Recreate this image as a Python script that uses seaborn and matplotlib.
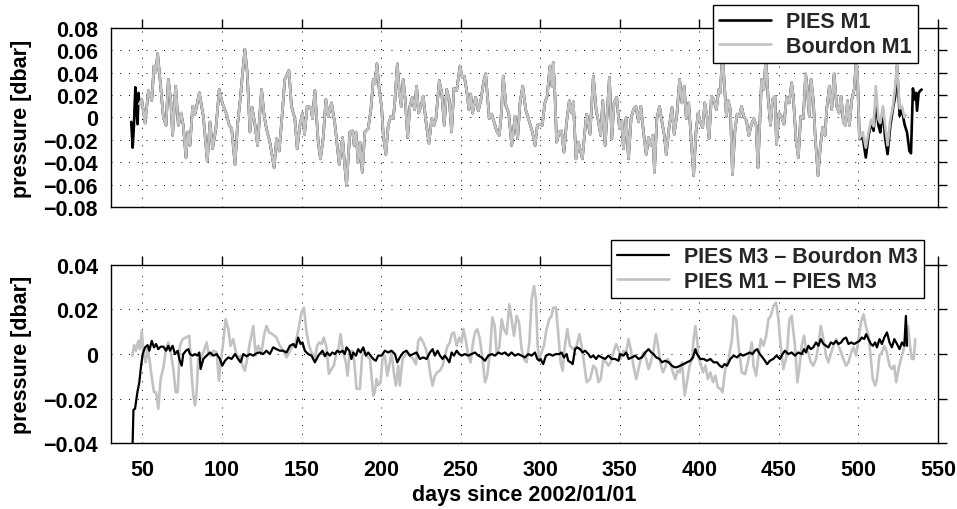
import matplotlib
matplotlib.use("Agg")
import matplotlib.pyplot as plt
import seaborn as sns
import numpy as np

# ---------------- data ----------------
# Top panel: Bourdon M1 bottom pressure (dbar), days since 2002/01/01
bourdon_m1_days = [
    48.0, 49.6, 51.7, 53.8, 55.9, 57.3, 58.4, 59.6, 61.1, 63.2,
    64.9, 66.3, 67.8, 69.0, 70.9, 72.6, 74.3, 75.7, 77.4, 78.5,
    79.9, 81.6, 83.1, 85.8, 88.3, 90.8, 92.5, 94.1, 96.2, 98.3,
    100.4, 102.9, 104.6, 106.1, 108.2, 109.8, 111.7, 112.8, 114.4, 115.9,
    117.6, 119.0, 120.7, 122.4, 124.9, 126.6, 128.0, 130.1, 132.8, 134.3,
    136.0, 138.1, 139.5, 142.1, 143.7, 145.8, 147.3, 149.0, 150.6, 151.9,
    153.6, 155.9, 156.9, 158.4, 160.5, 161.9, 163.6, 165.3, 166.8, 168.9,
    171.0, 172.4, 173.7, 175.8, 176.8, 178.3, 180.4, 182.1, 183.1, 184.2,
    185.6, 186.7, 188.2, 189.8, 191.9, 193.6, 195.1, 196.1, 197.4, 198.8,
    200.3, 201.4, 203.0, 204.5, 206.2, 207.7, 208.7, 210.2, 211.4, 212.7,
    213.9, 215.2, 216.7, 218.1, 219.6, 221.1, 222.3, 223.6, 225.1, 226.5,
    228.2, 230.1, 231.8, 233.2, 234.5, 236.6, 238.1, 239.7, 241.2, 242.9,
    244.3, 245.8, 247.5, 249.6, 251.0, 252.3, 253.8, 255.2, 256.3, 257.5,
    259.4, 261.1, 262.8, 264.3, 265.7, 267.0, 268.0, 269.5, 271.0, 272.6,
    274.3, 275.6, 276.8, 278.5, 280.2, 282.1, 284.2, 285.8, 287.3, 289.0,
    290.9, 293.2, 295.1, 296.8, 298.2, 299.5, 301.3, 302.9, 304.4, 306.1,
    307.4, 308.2, 309.2, 310.3, 312.0, 313.4, 314.9, 316.6, 318.3, 319.7,
    320.8, 322.5, 324.0, 325.0, 326.5, 328.2, 329.2, 331.3, 333.4, 335.1,
    336.6, 338.0, 339.3, 340.8, 342.2, 343.5, 345.0, 346.4, 348.1, 349.8,
    351.3, 352.3, 354.0, 355.5, 357.1, 358.6, 360.1, 361.8, 363.2, 364.9,
    366.6, 368.1, 369.7, 370.8, 371.8, 373.3, 375.0, 376.5, 377.9, 379.2,
    380.9, 382.8, 384.2, 385.9, 387.6, 389.1, 390.5, 391.8, 393.3, 394.7,
    396.4, 397.9, 399.2, 400.6, 402.1, 403.4, 404.8, 406.1, 407.6, 409.0,
    410.7, 412.2, 413.2, 414.5, 415.8, 417.0, 418.1, 419.5, 420.8, 422.3,
    423.7, 425.2, 426.5, 427.9, 429.6, 431.1, 432.6, 434.2, 435.7, 436.8,
    437.6, 439.1, 440.5, 441.8, 443.3, 444.7, 446.0, 447.5, 448.5, 450.0,
    451.5, 453.2, 454.8, 456.5, 458.0, 459.0, 460.7, 462.2, 463.7, 465.3,
    466.8, 467.9, 469.1, 470.2, 471.6, 472.9, 474.6, 476.1, 477.5, 479.0,
    480.0, 481.7, 483.2, 484.7, 486.3, 487.8, 489.1, 490.5, 491.8, 493.1,
    494.3, 495.8, 497.3, 498.5, 499.4, 500.6, 502.7, 504.6, 506.3, 508.0,
    509.5, 510.9, 512.6, 513.7, 515.3, 516.8, 518.3, 520.0, 521.6, 523.1,
    524.2, 525.9, 527.3, 528.9, 529.8,
]
bourdon_m1 = [
    0.012, 0.016, -0.005, 0.024, 0.015, 0.046, 0.040, 0.057, 0.034, 0.000,
    -0.007, 0.034, 0.016, -0.016, 0.028, -0.007, 0.004, -0.007, -0.036, -0.013,
    -0.025, 0.010, 0.003, 0.022, 0.001, -0.039, -0.004, -0.028, -0.010, 0.025,
    0.012, 0.003, -0.007, -0.010, -0.042, -0.007, 0.019, 0.037, 0.061, 0.040,
    -0.013, 0.009, -0.006, -0.025, 0.025, 0.001, -0.010, -0.022, -0.045, -0.019,
    -0.030, 0.007, 0.034, 0.042, 0.010, -0.001, -0.028, -0.007, 0.004, -0.015,
    0.010, 0.009, -0.001, 0.024, -0.022, -0.037, -0.019, 0.016, 0.001, 0.013,
    -0.006, -0.025, -0.042, -0.018, -0.037, -0.061, -0.013, -0.012, -0.025, -0.013,
    -0.040, -0.022, -0.049, -0.013, -0.010, 0.007, 0.034, 0.030, 0.048, 0.025,
    0.010, -0.016, -0.033, -0.007, 0.001, -0.001, 0.015, 0.048, 0.024, 0.010,
    0.034, 0.016, -0.018, 0.010, 0.018, 0.007, 0.028, 0.004, 0.010, 0.019,
    -0.004, -0.023, -0.001, -0.007, -0.001, 0.033, 0.022, -0.007, 0.025, 0.016,
    -0.013, 0.026, 0.024, 0.046, 0.036, 0.037, 0.024, 0.007, 0.021, 0.004,
    0.018, 0.006, 0.016, 0.031, 0.039, 0.016, -0.001, 0.003, -0.004, -0.012,
    -0.016, 0.004, 0.037, 0.010, 0.004, -0.025, 0.001, -0.019, 0.013, 0.028,
    0.007, -0.004, -0.013, -0.025, -0.007, -0.006, -0.007, 0.013, 0.019, 0.046,
    0.028, 0.049, 0.022, -0.022, -0.013, -0.012, -0.031, -0.004, 0.015, 0.004,
    0.014, -0.037, -0.022, -0.028, -0.037, -0.010, 0.003, -0.015, 0.037, 0.007,
    -0.004, -0.016, 0.015, -0.025, 0.007, 0.036, -0.019, 0.013, 0.018, -0.010,
    -0.003, -0.028, 0.000, -0.037, -0.001, 0.007, 0.010, -0.004, 0.010, -0.013,
    -0.033, -0.018, -0.025, -0.016, -0.049, -0.001, 0.010, -0.004, -0.015, -0.033,
    -0.010, 0.009, -0.015, 0.003, 0.034, 0.013, 0.028, -0.001, 0.013, -0.016,
    -0.052, -0.013, 0.004, -0.004, -0.009, 0.013, 0.001, -0.019, 0.019, 0.016,
    0.007, 0.025, 0.022, 0.058, 0.028, 0.001, 0.015, 0.007, -0.051, -0.013,
    0.003, 0.001, 0.010, 0.001, -0.003, -0.016, -0.007, -0.001, -0.007, -0.045,
    -0.019, 0.034, 0.025, 0.052, 0.016, -0.007, 0.016, 0.019, -0.024, 0.004,
    0.001, -0.006, 0.018, 0.013, 0.031, 0.019, -0.019, -0.036, 0.001, -0.001,
    0.039, 0.025, 0.001, 0.034, 0.016, -0.019, -0.052, -0.025, -0.009, -0.016,
    0.007, 0.028, 0.007, 0.039, 0.010, 0.004, 0.019, -0.004, -0.007, 0.015,
    -0.007, 0.016, 0.025, 0.050, 0.037, -0.019, -0.013, -0.027, -0.013, -0.002,
    -0.008, 0.028, -0.002, -0.005, 0.010, -0.008, -0.025, -0.002, 0.010, 0.028,
    0.048, 0.008, 0.010, 0.000, 0.002,
]

# PIES M1: coincides with Bourdon M1 in the middle; own values at start and end
pies_m1_start_days = [43.0, 43.9, 44.6, 45.6, 46.3, 47.0, 47.6]
pies_m1_start = [-0.004, -0.027, -0.010, 0.027, 0.005, -0.006, 0.022]
pies_m1_end_days = [500.6, 502.7, 504.6, 506.3, 508.0, 509.5, 510.9, 512.6, 513.7,
                    515.3, 516.8, 518.3, 520.0, 521.6, 523.1, 524.2, 525.9, 527.3,
                    528.9, 530.5, 532.0, 533.0, 534.2, 535.3, 536.1, 536.8, 537.8,
                    538.9, 539.7]
pies_m1_end = [-0.0194, -0.0179, -0.0358, -0.0164, -0.0045, -0.0119, 0.0134, -0.0075,
               -0.0134, 0.0075, -0.0194, -0.0328, -0.0075, 0.0075, 0.0194, 0.0463,
               0.0015, 0.0075, -0.0060, -0.0134, -0.0299, -0.0320, 0.0260, 0.0160,
               0.0220, 0.0060, 0.0220, 0.0240, 0.0250]
shared_until = 499.5  # PIES M1 equals Bourdon M1 up to this day

# Bottom panel: PIES M3 - Bourdon M3
diff3_days = [
    43.7, 44.4, 45.4, 46.9, 48.1, 49.2, 50.2, 51.7, 53.3, 54.4,
    55.9, 57.3, 58.6, 60.0, 61.5, 63.2, 64.9, 66.3, 67.4, 69.0,
    70.5, 72.2, 73.2, 74.7, 75.7, 77.4, 78.9, 79.9, 81.6, 83.1,
    84.5, 85.8, 86.6, 88.3, 90.4, 92.5, 94.6, 96.7, 98.7, 100.2,
    101.9, 104.0, 106.1, 108.2, 110.2, 111.7, 113.4, 115.5, 117.6, 119.7,
    121.8, 123.8, 125.9, 128.0, 130.1, 132.2, 134.3, 136.4, 138.5, 140.6,
    142.7, 144.8, 146.4, 147.9, 149.4, 150.6, 152.1, 154.2, 156.3, 158.4,
    160.6, 163.2, 164.7, 166.1, 167.8, 169.3, 171.0, 172.4, 174.1, 175.8,
    177.2, 178.3, 180.0, 181.4, 182.5, 184.2, 185.6, 187.1, 188.8, 190.5,
    191.9, 193.4, 195.1, 196.7, 198.2, 200.3, 202.4, 204.5, 206.6, 208.7,
    210.2, 211.8, 213.9, 216.0, 218.1, 220.2, 222.3, 224.4, 226.5, 228.6,
    230.7, 232.4, 233.8, 235.5, 237.0, 238.7, 240.1, 241.6, 242.9, 244.3,
    245.8, 247.5, 249.1, 250.6, 252.7, 254.8, 256.9, 259.0, 261.1, 263.2,
    265.3, 267.4, 269.5, 271.6, 273.7, 275.8, 277.9, 280.0, 282.0, 284.1,
    286.2, 288.3, 290.4, 292.5, 294.6, 296.7, 298.2, 299.4, 300.2, 301.9,
    303.6, 305.7, 307.8, 309.9, 312.0, 313.4, 314.9, 316.6, 317.6, 319.1,
    320.4, 321.9, 323.3, 325.0, 326.7, 328.2, 330.3, 331.7, 333.4, 335.1,
    336.6, 338.7, 340.8, 342.9, 345.0, 347.1, 349.2, 350.2, 352.3, 354.0,
    355.5, 357.6, 359.7, 361.8, 363.9, 366.0, 368.1, 369.8, 371.2, 372.9,
    375.0, 376.5, 378.6, 380.7, 382.8, 384.3, 385.9, 388.0, 390.1, 392.2,
    394.3, 396.0, 397.5, 398.5, 400.6, 402.7, 404.8, 406.9, 409.0, 411.1,
    412.8, 414.3, 415.8, 417.4, 419.5, 421.6, 423.7, 425.8, 427.5, 429.6,
    431.7, 433.4, 434.9, 436.3, 438.0, 439.7, 441.2, 442.6, 444.3, 446.4,
    448.5, 450.6, 452.3, 453.8, 455.9, 458.0, 460.1, 462.2, 464.3, 465.8,
    467.0, 468.5, 470.0, 471.6, 473.3, 474.8, 476.3, 478.0, 479.6, 481.1,
    482.6, 484.2, 486.0, 487.4, 489.1, 490.5, 492.2, 493.7, 495.4, 497.3,
    498.9, 500.6, 502.1, 503.6, 504.8, 506.3, 507.8, 509.0, 510.5, 511.6,
    513.2, 514.7, 516.2, 517.9, 519.5, 521.0, 522.5, 524.2, 525.8, 527.3,
    528.8, 529.8, 530.5,
]
diff3 = [
    -0.0450, -0.0250, -0.0245, -0.0170, -0.0126, -0.0052, 0.0000, 0.0030, 0.0040, 0.0015,
    0.0059, 0.0030, 0.0045, 0.0022, 0.0033, 0.0033, 0.0015, 0.0037, 0.0015, 0.0037,
    0.0000, 0.0015, -0.0022, -0.0052, 0.0000, 0.0015, 0.0022, 0.0000, -0.0007, 0.0000,
    -0.0007, 0.0007, -0.0067, -0.0022, -0.0007, 0.0007, -0.0007, 0.0000, -0.0022, -0.0052,
    -0.0030, -0.0015, -0.0022, 0.0000, -0.0022, -0.0037, 0.0000, -0.0010, 0.0000, -0.0007,
    0.0004, 0.0007, 0.0000, 0.0015, 0.0000, 0.0030, 0.0022, 0.0015, 0.0015, 0.0007,
    0.0037, 0.0045, 0.0030, 0.0074, 0.0045, 0.0052, 0.0015, 0.0000, -0.0007, -0.0037,
    -0.0007, 0.0015, -0.0010, 0.0007, -0.0007, 0.0007, 0.0000, 0.0015, 0.0007, 0.0015,
    0.0000, 0.0030, 0.0015, -0.0022, 0.0007, -0.0007, 0.0022, 0.0007, 0.0030, -0.0007,
    0.0007, -0.0007, -0.0022, -0.0030, -0.0007, -0.0007, 0.0015, 0.0007, 0.0015, 0.0000,
    -0.0037, -0.0015, 0.0007, 0.0015, -0.0007, 0.0000, 0.0007, -0.0022, -0.0015, -0.0022,
    0.0007, 0.0022, -0.0007, 0.0015, -0.0007, -0.0022, -0.0007, -0.0022, -0.0037, 0.0007,
    -0.0007, 0.0015, 0.0000, -0.0007, 0.0000, -0.0007, 0.0000, 0.0007, -0.0007, -0.0015,
    -0.0030, -0.0007, 0.0000, -0.0007, 0.0007, 0.0000, 0.0007, -0.0007, 0.0007, -0.0007,
    0.0000, -0.0007, -0.0015, 0.0000, -0.0007, 0.0007, -0.0022, -0.0030, -0.0022, -0.0045,
    -0.0007, 0.0000, -0.0007, 0.0000, 0.0000, 0.0007, -0.0015, 0.0000, -0.0030, -0.0037,
    -0.0045, 0.0022, 0.0030, 0.0022, 0.0007, 0.0015, 0.0000, -0.0015, -0.0007, -0.0022,
    -0.0007, -0.0015, -0.0022, -0.0007, -0.0022, -0.0022, -0.0030, 0.0000, -0.0007, 0.0007,
    -0.0022, -0.0015, -0.0007, -0.0022, -0.0015, 0.0007, 0.0022, 0.0007, 0.0000, -0.0015,
    -0.0022, -0.0037, -0.0030, -0.0037, -0.0052, -0.0059, -0.0059, -0.0052, -0.0045, -0.0037,
    -0.0030, -0.0015, 0.0022, 0.0000, -0.0022, -0.0022, -0.0030, -0.0022, -0.0037, -0.0037,
    -0.0052, -0.0059, -0.0045, -0.0052, -0.0022, -0.0007, -0.0015, 0.0000, -0.0007, 0.0000,
    0.0007, 0.0000, 0.0015, 0.0022, 0.0000, -0.0015, -0.0030, -0.0045, -0.0030, -0.0022,
    -0.0007, -0.0022, 0.0000, 0.0015, 0.0000, 0.0007, -0.0007, 0.0007, 0.0000, 0.0022,
    0.0007, 0.0037, 0.0022, 0.0030, 0.0052, 0.0037, 0.0067, 0.0045, 0.0037, 0.0030,
    0.0052, 0.0045, 0.0059, 0.0045, 0.0052, 0.0067, 0.0074, 0.0045, 0.0052, 0.0045,
    0.0052, 0.0059, 0.0074, 0.0067, 0.0089, 0.0067, 0.0045, 0.0037, 0.0052, 0.0030,
    0.0067, 0.0045, 0.0074, 0.0097, 0.0052, 0.0030, 0.0067, 0.0045, 0.0022, 0.0052,
    0.0037, 0.0171, 0.0037,
]

# Bottom panel: PIES M1 - PIES M3
diff13_days = [
    43.7, 44.8, 46.0, 47.5, 48.5, 49.6, 50.6, 52.1, 53.3, 54.4,
    55.9, 57.3, 58.6, 60.0, 61.5, 63.2, 64.9, 66.3, 67.8, 69.5,
    70.9, 72.2, 73.6, 75.3, 77.4, 79.5, 81.0, 82.0, 83.1, 84.1,
    85.1, 86.6, 88.3, 90.4, 91.4, 93.1, 94.6, 96.7, 98.1, 99.2,
    100.8, 102.3, 104.0, 105.4, 107.1, 108.8, 110.2, 111.7, 113.0, 114.4,
    115.9, 117.6, 119.7, 121.3, 122.8, 124.9, 126.4, 128.0, 129.7, 131.8,
    134.3, 136.4, 138.5, 140.6, 142.3, 143.7, 145.8, 147.9, 150.0, 151.5,
    153.2, 154.8, 156.3, 158.4, 159.8, 161.1, 162.6, 164.0, 165.7, 167.2,
    168.9, 170.3, 172.0, 173.1, 174.5, 176.2, 177.9, 178.9, 180.4, 181.9,
    183.1, 184.6, 186.7, 188.1, 189.4, 190.9, 193.0, 194.0, 195.1, 196.1,
    197.2, 198.2, 199.7, 200.9, 202.4, 203.9, 205.1, 206.6, 208.1, 209.3,
    210.8, 211.8, 213.5, 215.0, 216.4, 218.1, 220.2, 221.9, 223.4, 224.8,
    226.5, 228.2, 229.6, 231.1, 232.4, 233.8, 235.3, 237.0, 238.7, 240.1,
    241.8, 243.3, 244.3, 245.8, 247.5, 249.1, 250.6, 251.7, 253.1, 254.8,
    256.3, 257.5, 259.0, 260.5, 262.1, 263.2, 264.2, 265.3, 266.7, 268.4,
    269.9, 271.4, 272.6, 274.3, 275.8, 277.2, 278.9, 280.6, 282.0, 283.5,
    285.2, 286.7, 288.3, 289.8, 291.5, 293.2, 294.6, 296.1, 297.3, 298.4,
    299.4, 300.8, 302.3, 304.0, 305.7, 307.1, 308.2, 309.9, 311.3, 312.8,
    314.1, 315.5, 317.0, 318.7, 320.8, 322.9, 324.6, 326.0, 327.5, 329.2,
    331.3, 333.4, 335.1, 336.6, 338.0, 339.7, 341.4, 342.9, 344.3, 346.0,
    347.7, 349.2, 350.6, 352.3, 354.0, 355.5, 356.9, 358.6, 360.3, 361.8,
    363.2, 364.9, 366.6, 368.1, 369.5, 371.2, 372.7, 374.0, 375.4, 377.1,
    378.6, 380.0, 381.7, 383.4, 384.9, 386.3, 387.6, 389.1, 390.8, 392.2,
    393.9, 395.4, 396.4, 397.5, 398.5, 399.6, 400.6, 402.3, 403.8, 405.3,
    406.9, 408.6, 410.1, 411.6, 413.2, 414.5, 415.8, 416.3, 418.4, 420.5,
    421.5, 423.2, 424.6, 426.7, 428.8, 430.9, 433.0, 434.0, 435.7, 437.2,
    438.6, 440.3, 442.0, 443.4, 444.9, 446.6, 448.2, 449.7, 451.1, 452.8,
    454.9, 456.6, 458.0, 460.1, 461.6, 462.8, 464.3, 465.8, 467.0, 468.5,
    470.0, 471.6, 473.3, 474.8, 476.3, 478.0, 479.6, 481.1, 482.6, 484.2,
    486.0, 487.4, 489.1, 490.5, 492.2, 493.7, 495.4, 496.9, 498.5, 500.0,
    501.5, 503.2, 504.6, 506.3, 507.8, 509.0, 510.5, 511.6, 513.2, 514.7,
    516.2, 517.9, 519.5, 521.0, 522.5, 523.7, 525.2, 526.7, 528.4, 529.8,
    531.1, 532.6, 533.6, 534.7, 535.7,
]
diff13 = [
    -0.0007, 0.0040, 0.0015, 0.0059, 0.0022, 0.0104, 0.0007, -0.0037, 0.0033, -0.0022,
    -0.0104, -0.0171, -0.0171, -0.0245, -0.0112, -0.0059, 0.0022, 0.0052, 0.0007, -0.0067,
    -0.0171, -0.0171, 0.0037, 0.0067, 0.0074, 0.0082, -0.0097, -0.0186, -0.0230, -0.0171,
    -0.0022, -0.0022, 0.0007, 0.0052, 0.0007, -0.0007, 0.0015, 0.0007, -0.0119, -0.0037,
    0.0052, 0.0156, 0.0112, 0.0037, 0.0067, 0.0007, -0.0022, -0.0007, -0.0052, -0.0074,
    -0.0022, 0.0052, 0.0126, -0.0007, 0.0037, 0.0007, 0.0082, 0.0126, 0.0097, 0.0089,
    0.0074, 0.0037, 0.0015, -0.0015, 0.0007, 0.0030, 0.0037, 0.0104, 0.0186, 0.0208,
    0.0097, 0.0037, 0.0007, -0.0022, 0.0037, 0.0052, 0.0045, 0.0074, 0.0030, -0.0089,
    -0.0067, -0.0052, 0.0007, 0.0007, 0.0089, 0.0007, -0.0037, -0.0097, 0.0007, 0.0015,
    -0.0030, -0.0156, -0.0156, -0.0007, 0.0007, -0.0007, -0.0022, -0.0097, -0.0186, -0.0171,
    -0.0112, -0.0141, -0.0126, -0.0022, -0.0007, -0.0097, -0.0052, 0.0007, -0.0089, -0.0141,
    -0.0052, -0.0141, -0.0022, -0.0007, 0.0007, -0.0007, -0.0022, -0.0045, 0.0059, 0.0074,
    0.0052, 0.0022, -0.0022, -0.0097, -0.0141, -0.0097, -0.0082, -0.0074, -0.0052, -0.0007,
    0.0037, 0.0052, 0.0089, 0.0097, 0.0037, 0.0074, 0.0052, 0.0112, 0.0067, -0.0007,
    -0.0037, 0.0037, 0.0097, 0.0112, 0.0067, 0.0007, -0.0052, -0.0126, -0.0097, 0.0007,
    0.0164, 0.0126, 0.0007, 0.0030, 0.0156, 0.0112, 0.0089, 0.0223, 0.0156, 0.0082,
    0.0171, 0.0141, 0.0022, -0.0022, -0.0037, 0.0052, 0.0245, 0.0305, 0.0245, 0.0037,
    -0.0022, 0.0007, 0.0037, 0.0112, 0.0156, 0.0171, 0.0208, 0.0208, 0.0097, -0.0037,
    -0.0074, 0.0037, 0.0112, 0.0037, 0.0022, 0.0037, 0.0089, 0.0037, -0.0037, -0.0126,
    -0.0112, -0.0052, -0.0067, -0.0126, -0.0112, -0.0022, -0.0037, -0.0052, -0.0037, 0.0007,
    0.0045, 0.0022, -0.0022, 0.0015, 0.0007, 0.0067, 0.0022, -0.0052, -0.0112, -0.0067,
    -0.0022, 0.0007, -0.0022, -0.0067, -0.0037, 0.0015, 0.0089, 0.0037, -0.0037, -0.0082,
    -0.0059, -0.0022, -0.0037, -0.0082, -0.0112, -0.0074, -0.0082, -0.0037, -0.0186, -0.0126,
    -0.0052, -0.0022, 0.0067, 0.0126, 0.0067, -0.0022, -0.0037, -0.0082, -0.0052, -0.0112,
    -0.0082, -0.0126, -0.0097, -0.0149, -0.0156, -0.0171, -0.0097, -0.0067, -0.0022, 0.0067,
    0.0171, 0.0156, 0.0037, -0.0082, -0.0090, -0.0022, 0.0052, -0.0052, -0.0097, -0.0007,
    0.0067, 0.0037, 0.0082, 0.0156, 0.0171, 0.0216, 0.0230, 0.0156, 0.0037, -0.0067,
    -0.0007, 0.0156, 0.0171, 0.0037, -0.0126, -0.0067, 0.0037, 0.0082, 0.0022, 0.0007,
    -0.0037, -0.0052, -0.0022, 0.0037, 0.0126, 0.0067, -0.0007, -0.0037, 0.0000, 0.0037,
    0.0067, 0.0037, 0.0007, -0.0022, -0.0052, -0.0037, 0.0007, 0.0030, -0.0007, 0.0067,
    0.0141, 0.0178, 0.0126, 0.0082, -0.0022, -0.0112, -0.0141, -0.0112, -0.0007, 0.0007,
    0.0037, 0.0007, -0.0052, -0.0067, -0.0052, -0.0126, -0.0067, -0.0022, 0.0022, 0.0082,
    0.0126, 0.0022, -0.0022, -0.0022, 0.0067,
]

x_ticks = [50, 100, 150, 200, 250, 300, 350, 400, 450, 500, 550]
top_yticks = [-0.08, -0.06, -0.04, -0.02, 0, 0.02, 0.04, 0.06, 0.08]
bottom_yticks = [-0.04, -0.02, 0, 0.02, 0.04]
top_labels = ["PIES M1", "Bourdon M1"]
bottom_labels = ["PIES M3 \u2013 Bourdon M3", "PIES M1 \u2013 PIES M3"]
x_label = "days since 2002/01/01"
y_label = "pressure [dbar]"

# ---------------- styling ----------------
sns.set_theme(style="white")
plt.rcParams["font.family"] = ["Liberation Sans", "DejaVu Sans"]
plt.rcParams["font.weight"] = "bold"
plt.rcParams["axes.labelweight"] = "bold"

BLACK = "#000000"
GRAY = "#c2c2c2"
FS = 15.5


def fmt(v):
    if abs(v) < 1e-12:
        return "0"
    s = f"{abs(v):.2f}"
    return ("\u2212" + s) if v < 0 else s


fig = plt.figure(figsize=(9.57, 5.10), dpi=100)
ax1 = fig.add_axes([0.1160, 0.5922, 0.8642, 0.3510])
ax2 = fig.add_axes([0.1160, 0.1288, 0.8642, 0.3500])

# PIES M1 composed of its own start/end pieces and the shared middle
mid_days = [d for d in bourdon_m1_days if d <= shared_until]
mid_vals = [v for d, v in zip(bourdon_m1_days, bourdon_m1) if d <= shared_until]
pies_days = pies_m1_start_days + mid_days + pies_m1_end_days
pies_vals = pies_m1_start + mid_vals + pies_m1_end

sns.lineplot(x=pies_days, y=pies_vals, ax=ax1, color=BLACK, linewidth=1.9,
             sort=False, estimator=None, label=top_labels[0], zorder=2, legend=False)
sns.lineplot(x=bourdon_m1_days, y=bourdon_m1, ax=ax1, color=GRAY, linewidth=1.9,
             sort=False, estimator=None, label=top_labels[1], zorder=3, legend=False)

sns.lineplot(x=diff3_days, y=diff3, ax=ax2, color=BLACK, linewidth=1.6,
             sort=False, estimator=None, label=bottom_labels[0], zorder=3, legend=False)
sns.lineplot(x=diff13_days, y=diff13, ax=ax2, color=GRAY, linewidth=1.9,
             sort=False, estimator=None, label=bottom_labels[1], zorder=2, legend=False)

for ax, yt, ylim in ((ax1, top_yticks, (-0.08, 0.08)), (ax2, bottom_yticks, (-0.04, 0.04))):
    ax.set_xlim(30.3, 550)
    ax.set_ylim(*ylim)
    ax.set_xticks(x_ticks)
    ax.set_xticklabels([str(t) for t in x_ticks])
    ax.set_yticks(yt)
    ax.set_yticklabels([fmt(v) for v in yt])
    ax.grid(True, which="major", color="black", linestyle=(0, (1, 8)), linewidth=0.7)
    ax.set_axisbelow(True)
    for sp in ax.spines.values():
        sp.set_visible(True)
        sp.set_color("black")
        sp.set_linewidth(1.0)
    ax.tick_params(axis="both", which="major", direction="out", length=6.5, width=1.0,
                   color="black", top=True, right=True, labelsize=FS, labelcolor="black")
    ax.tick_params(axis="y", pad=3)
    ax.tick_params(axis="x", pad=5)
    for lab in ax.get_xticklabels() + ax.get_yticklabels():
        lab.set_fontweight("bold")
    ax.set_ylabel(y_label, fontsize=FS, fontweight="bold", color="black")
    ax.yaxis.set_label_coords(-0.0955, 0.5)

ax1.tick_params(axis="x", labelbottom=False)
ax1.set_xlabel("")
ax2.set_xlabel(x_label, fontsize=FS, fontweight="bold", color="black")
ax2.xaxis.set_label_coords(0.5, -0.228)

leg_kw = dict(frameon=True, fancybox=False, framealpha=1.0,
              edgecolor="black", handlelength=2.4, handletextpad=0.7,
              borderpad=0.3, labelspacing=0.15, loc="upper right",
              bbox_transform=fig.transFigure, borderaxespad=0.0)
prop = {"weight": "bold", "size": FS}
h1, l1 = ax1.get_legend_handles_labels()
leg1 = ax1.legend(h1, l1, bbox_to_anchor=(918 / 957, 1 - 6 / 510), prop=prop, **leg_kw)
h2, l2 = ax2.get_legend_handles_labels()
leg2 = ax2.legend(h2, l2, bbox_to_anchor=(924 / 957, 1 - 241 / 510), prop=prop, **leg_kw)
for leg in (leg1, leg2):
    leg.get_frame().set_linewidth(1.0)
    leg.set_zorder(10)

fig.savefig("out.png", dpi=100)
